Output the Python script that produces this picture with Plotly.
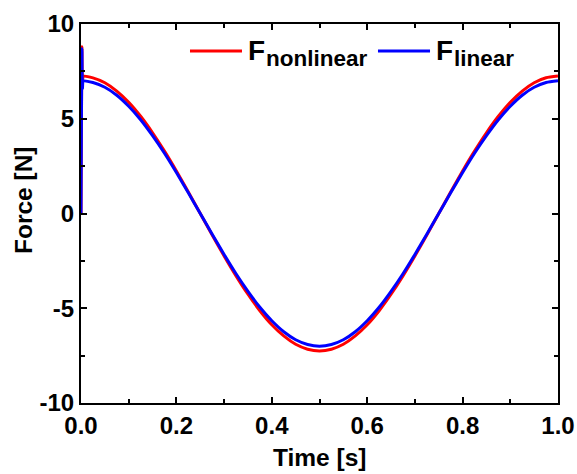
import plotly.graph_objects as go

# Sampled force traces over one period (time in s, force in N)
time_s = [0.0, 0.002, 0.003, 0.005, 0.025, 0.05, 0.075, 0.1, 0.125, 0.15, 0.175, 0.2, 0.225,
          0.25, 0.275, 0.3, 0.325, 0.35, 0.375, 0.4, 0.425, 0.45, 0.475, 0.5,
          0.525, 0.55, 0.575, 0.6, 0.625, 0.65, 0.675, 0.7, 0.725, 0.75,
          0.775, 0.8, 0.825, 0.85, 0.875, 0.9, 0.925, 0.95, 0.975, 1.0]

f_nonlinear = [0.0, 8.8, 7.0, 7.24, 7.16, 6.90, 6.46, 5.87, 5.13, 4.26, 3.29, 2.24, 1.13,
               0.0, -1.13, -2.24, -3.29, -4.26, -5.13, -5.87, -6.46, -6.90, -7.16, -7.25,
               -7.16, -6.90, -6.46, -5.87, -5.13, -4.26, -3.29, -2.24, -1.13, 0.0,
               1.13, 2.24, 3.29, 4.26, 5.13, 5.87, 6.46, 6.90, 7.16, 7.25]

f_linear = [0.0, 8.7, 6.6, 6.99, 6.91, 6.66, 6.24, 5.66, 4.95, 4.11, 3.18, 2.16, 1.09,
            0.0, -1.09, -2.16, -3.18, -4.11, -4.95, -5.66, -6.24, -6.66, -6.91, -7.0,
            -6.91, -6.66, -6.24, -5.66, -4.95, -4.11, -3.18, -2.16, -1.09, 0.0,
            1.09, 2.16, 3.18, 4.11, 4.95, 5.66, 6.24, 6.66, 6.91, 7.0]

x_ticks = [0.0, 0.2, 0.4, 0.6, 0.8, 1.0]
x_tick_text = ["0.0", "0.2", "0.4", "0.6", "0.8", "1.0"]
y_ticks = [-10, -5, 0, 5, 10]
y_tick_text = ["-10", "-5", "0", "5", "10"]

series_names = ["nonlinear", "linear"]
series_colors = ["#FF0000", "#0000FF"]

FONT = "Liberation Sans, Arial, sans-serif"

fig = go.Figure()
for name, ys, color in zip(series_names, [f_nonlinear, f_linear], series_colors):
    fig.add_trace(go.Scatter(x=time_s, y=ys, mode="lines", name="F" + name,
                             line=dict(color=color, width=3, shape="spline", smoothing=0.6),
                             showlegend=False))

axis_common = dict(showline=True, linecolor="black", linewidth=2, mirror="ticks",
                   ticks="inside", ticklen=6, tickwidth=2, tickcolor="black",
                   showgrid=False, zeroline=False, automargin=False,
                   tickfont=dict(family=FONT, size=24, color="black", weight="bold"))

fig.update_xaxes(range=[0, 1], tickvals=x_ticks, ticktext=x_tick_text,
                 minor=dict(dtick=0.1, ticks="inside", ticklen=4, tickwidth=2, tickcolor="black"),
                 **axis_common)
fig.update_yaxes(range=[-10, 10], tickvals=y_ticks, ticktext=y_tick_text,
                 minor=dict(dtick=2.5, ticks="inside", ticklen=4, tickwidth=2, tickcolor="black"),
                 **axis_common)

title_font = dict(family=FONT, size=24.5, color="black", weight="bold")
fig.add_annotation(xref="paper", yref="paper", x=0.5, y=-0.145, xanchor="center",
                   yanchor="middle", showarrow=False, text="Time [s]", font=title_font)
fig.add_annotation(xref="paper", yref="paper", x=-0.122, y=0.535, xanchor="center",
                   yanchor="middle", showarrow=False, text="Force [N]", textangle=-90,
                   font=title_font)

# Legend drawn in paper coordinates: a line sample, a large "F" and its subscript
legend_line_x = [(0.2285, 0.3375), (0.6226, 0.7317)]
legend_text_x = [0.3460, 0.7400]
legend_sub_x = [0.3840, 0.7780]
legend_y = 0.9288
for (x0, x1), tx, sx, name, color in zip(legend_line_x, legend_text_x, legend_sub_x,
                                          series_names, series_colors):
    fig.add_shape(type="line", xref="paper", yref="paper", x0=x0, x1=x1,
                  y0=legend_y, y1=legend_y, line=dict(color=color, width=3))
    fig.add_annotation(xref="paper", yref="paper", x=tx, y=legend_y + 0.002,
                       xanchor="left", yanchor="middle", showarrow=False, text="F",
                       font=dict(family=FONT, size=28, color="black", weight="bold"))
    fig.add_annotation(xref="paper", yref="paper", x=sx, y=legend_y - 0.02,
                       xanchor="left", yanchor="middle", showarrow=False, text=name,
                       font=dict(family=FONT, size=22.5, color="black", weight="bold"))

fig.update_layout(
    width=577, height=474,
    margin=dict(l=81, r=19, t=24, b=71),
    plot_bgcolor="white", paper_bgcolor="white",
    showlegend=False,
)

fig.write_html("out.html")
